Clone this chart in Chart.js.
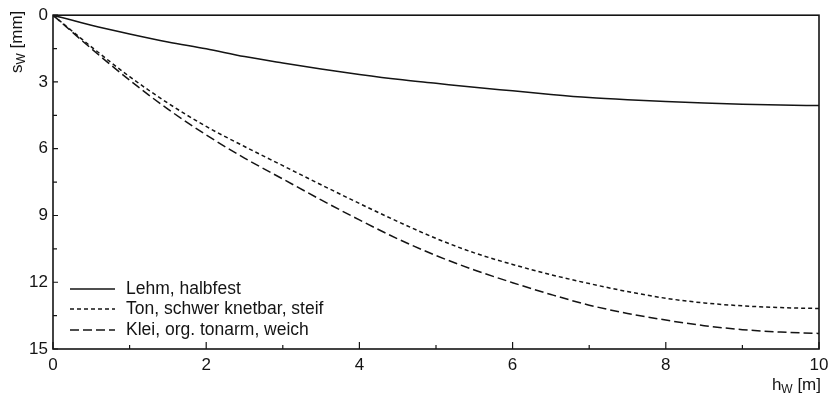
<!DOCTYPE html>
<html>
<head>
<meta charset="utf-8">
<script src="https://cdn.jsdelivr.net/npm/chart.js@4/dist/chart.umd.min.js"></script>
<style>
  html, body { margin: 0; padding: 0; background: #fff; }
  #wrap { width: 837px; height: 398px; }
</style>
</head>
<body>
<div id="wrap"><canvas id="chart"></canvas></div>
<script>
// h_W [m]
const hValues = [0, 0.5, 1, 1.5, 2, 2.5, 3, 3.5, 4, 4.5, 5, 5.5, 6, 6.5, 7, 7.5, 8, 8.5, 9, 9.5, 10];
// s_W [mm]
const lehm = [0, 0.45, 0.84, 1.2, 1.51, 1.86, 2.15, 2.42, 2.66, 2.88, 3.06, 3.24, 3.4, 3.56, 3.7, 3.8, 3.88, 3.95, 4.0, 4.04, 4.06];
const ton = [0, 1.42, 2.76, 3.95, 5.0, 5.9, 6.76, 7.62, 8.46, 9.27, 10.03, 10.68, 11.2, 11.66, 12.06, 12.42, 12.72, 12.93, 13.06, 13.14, 13.18];
const klei = [0, 1.5, 2.92, 4.22, 5.38, 6.42, 7.36, 8.3, 9.2, 10.05, 10.8, 11.45, 12.02, 12.55, 13.03, 13.4, 13.7, 13.95, 14.13, 14.24, 14.3];
const seriesNames = ["Lehm, halbfest", "Ton, schwer knetbar, steif", "Klei, org. tonarm, weich"];
const xTicks = [0, 2, 4, 6, 8, 10];
const yTicks = [0, 3, 6, 9, 12, 15];

const FONT = "'Liberation Sans', Arial, Helvetica, sans-serif";
const INK = "#141414";

const toPoints = (vals) => vals.map((v, i) => ({ x: hValues[i], y: v }));

const frame = {
  id: "frame",
  afterDraw(chart) {
    const { ctx, chartArea: a, scales } = chart;
    const xs = scales.x, ys = scales.y;
    ctx.save();
    ctx.strokeStyle = INK;
    ctx.lineWidth = 1.6;
    ctx.strokeRect(a.left, a.top, a.right - a.left, a.bottom - a.top);

    // inward ticks
    ctx.lineWidth = 1.2;
    ctx.beginPath();
    for (let v = 0; v <= 10; v += 1) {
      const px = xs.getPixelForValue(v);
      const len = v % 2 === 0 ? 7 : 4;
      ctx.moveTo(px, a.bottom);
      ctx.lineTo(px, a.bottom - len);
    }
    for (let v = 0; v <= 15; v += 1.5) {
      const py = ys.getPixelForValue(v);
      const len = v % 3 === 0 ? 5 : 4;
      ctx.moveTo(a.left, py);
      ctx.lineTo(a.left + len, py);
    }
    ctx.stroke();

    // legend inside plot
    ctx.fillStyle = INK;
    ctx.font = "17.5px " + FONT;
    ctx.textBaseline = "middle";
    ctx.textAlign = "left";
    const rowY = [289, 309, 330];
    chart.data.datasets.forEach((ds, i) => {
      ctx.setLineDash(ds.borderDash || []);
      ctx.lineWidth = 1.4;
      ctx.beginPath();
      ctx.moveTo(70, rowY[i]);
      ctx.lineTo(115, rowY[i]);
      ctx.stroke();
      ctx.setLineDash([]);
      ctx.fillText(ds.label, 126, rowY[i]);
    });

    // axis titles with subscript W
    ctx.textBaseline = "alphabetic";
    const drawSub = (x, y, base, sub, rest) => {
      ctx.font = "17px " + FONT;
      ctx.fillText(base, x, y);
      let w = ctx.measureText(base).width;
      ctx.font = "12px " + FONT;
      ctx.fillText(sub, x + w, y + 3);
      w += ctx.measureText(sub).width;
      ctx.font = "17px " + FONT;
      ctx.fillText(rest, x + w, y);
      return w + ctx.measureText(rest).width;
    };
    // x title, right aligned at plot right edge
    ctx.font = "17px " + FONT;
    let wTot = ctx.measureText("h").width + ctx.measureText(" [m]").width;
    ctx.font = "12px " + FONT;
    wTot += ctx.measureText("W").width;
    drawSub(a.right + 2 - wTot, 390, "h", "W", " [m]");

    // y title, rotated
    ctx.translate(22, 73);
    ctx.rotate(-Math.PI / 2);
    drawSub(0, 0, "s", "W", " [mm]");
    ctx.restore();
  }
};

new Chart(document.getElementById("chart"), {
  type: "line",
  data: {
    datasets: [
      { label: seriesNames[0], data: toPoints(lehm), borderDash: [] },
      { label: seriesNames[1], data: toPoints(ton), borderDash: [4, 3] },
      { label: seriesNames[2], data: toPoints(klei), borderDash: [9, 4] }
    ].map((d) => Object.assign(d, {
      borderColor: INK,
      borderWidth: 1.5,
      pointRadius: 0,
      fill: false,
      cubicInterpolationMode: "monotone"
    }))
  },
  options: {
    responsive: true,
    maintainAspectRatio: false,
    animation: false,
    layout: { padding: { left: 0, right: 18, top: 14, bottom: 0 } },
    plugins: { legend: { display: false }, tooltip: { enabled: false } },
    scales: {
      x: {
        type: "linear",
        min: 0,
        max: 10,
        grid: { display: false, drawTicks: false },
        border: { display: false },
        afterBuildTicks: (s) => { s.ticks = xTicks.map((v) => ({ value: v })); },
        ticks: { color: INK, font: { family: FONT, size: 17 }, padding: 6, maxRotation: 0 },
        afterFit: (s) => { s.height = 49; }
      },
      y: {
        type: "linear",
        min: 0,
        max: 15,
        reverse: true,
        grid: { display: false, drawTicks: false },
        border: { display: false },
        afterBuildTicks: (s) => { s.ticks = yTicks.map((v) => ({ value: v })); },
        ticks: { color: INK, font: { family: FONT, size: 17 }, padding: 5 },
        afterFit: (s) => { s.width = 53; }
      }
    }
  },
  plugins: [frame]
});
</script>
</body>
</html>
